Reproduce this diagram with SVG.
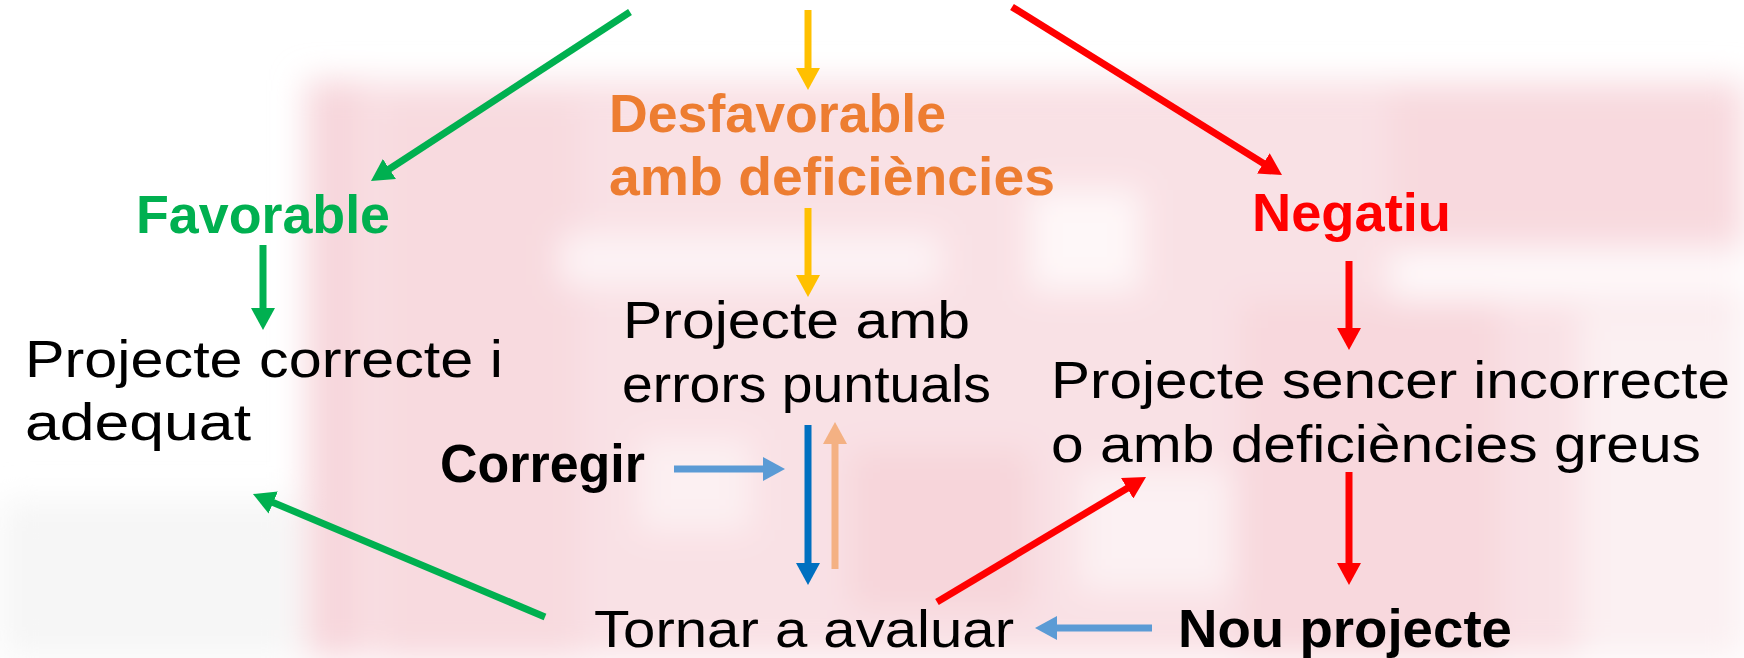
<svg xmlns="http://www.w3.org/2000/svg" width="1744" height="658" viewBox="0 0 1744 658">
<defs>
<style>
.t{font-family:"Liberation Sans",Arial,sans-serif;font-size:52px;fill:#000}
.b{font-family:"Liberation Sans",Arial,sans-serif;font-size:54px;font-weight:bold}
.c{fill:none;stroke-width:7;stroke-linecap:butt}
</style>
<filter id="blur" x="-20%" y="-20%" width="140%" height="140%"><feGaussianBlur stdDeviation="16"/></filter>
<marker id="mG" markerUnits="userSpaceOnUse" markerWidth="22" markerHeight="24" refX="6" refY="12" orient="auto"><path d="M0,0 L22,12 L0,24 z" fill="#00B050"/></marker>
<marker id="mY" markerUnits="userSpaceOnUse" markerWidth="22" markerHeight="24" refX="6" refY="12" orient="auto"><path d="M0,0 L22,12 L0,24 z" fill="#FFC000"/></marker>
<marker id="mR" markerUnits="userSpaceOnUse" markerWidth="22" markerHeight="24" refX="6" refY="12" orient="auto"><path d="M0,0 L22,12 L0,24 z" fill="#FF0000"/></marker>
<marker id="mL" markerUnits="userSpaceOnUse" markerWidth="22" markerHeight="24" refX="6" refY="12" orient="auto"><path d="M0,0 L22,12 L0,24 z" fill="#5B9BD5"/></marker>
<marker id="mD" markerUnits="userSpaceOnUse" markerWidth="22" markerHeight="24" refX="6" refY="12" orient="auto"><path d="M0,0 L22,12 L0,24 z" fill="#0070C0"/></marker>
<marker id="mP" markerUnits="userSpaceOnUse" markerWidth="22" markerHeight="24" refX="6" refY="12" orient="auto"><path d="M0,0 L22,12 L0,24 z" fill="#F4B183"/></marker>
</defs>
<rect width="1744" height="658" fill="#fff"/>
<g id="background" filter="url(#blur)">
<rect x="0" y="500" width="300" height="158" fill="#F6F6F6"/>
<rect x="305" y="80" width="1439" height="578" fill="#F9E1E5"/>
<rect x="310" y="80" width="50" height="578" fill="#F7D6DB"/>
<rect x="380" y="100" width="200" height="560" fill="#F8DADF"/>
<rect x="1390" y="90" width="354" height="150" fill="#F8D9DE"/>
<rect x="560" y="235" width="380" height="50" fill="#FDF3F5"/>
<rect x="1030" y="190" width="110" height="100" fill="#FEF7F8"/>
<rect x="1390" y="250" width="354" height="50" fill="#FEF8F9"/>
<rect x="1580" y="310" width="164" height="348" fill="#FBF0F2"/>
<rect x="640" y="440" width="110" height="90" fill="#FCF0F2"/>
<rect x="1080" y="470" width="150" height="120" fill="#FCF1F3"/>
<rect x="850" y="450" width="180" height="160" fill="#F7D5DA"/>
<rect x="1240" y="300" width="260" height="358" fill="#F8D8DD"/>
</g>
<g id="connectors">
<line class="c" x1="630" y1="12" x2="384.4" y2="172.3" stroke="#00B050" marker-end="url(#mG)"/>
<line class="c" x1="808" y1="10" x2="808" y2="74" stroke="#FFC000" marker-end="url(#mY)"/>
<line class="c" x1="1012" y1="7" x2="1268.4" y2="166.5" stroke="#FF0000" marker-end="url(#mR)"/>
<line class="c" x1="263" y1="245" x2="263" y2="314" stroke="#00B050" marker-end="url(#mG)"/>
<line class="c" x1="808" y1="208" x2="808" y2="281" stroke="#FFC000" marker-end="url(#mY)"/>
<line class="c" x1="1349" y1="261" x2="1349" y2="334" stroke="#FF0000" marker-end="url(#mR)"/>
<line class="c" x1="674" y1="469" x2="769" y2="469" stroke="#5B9BD5" marker-end="url(#mL)"/>
<line class="c" x1="808" y1="425" x2="808" y2="569" stroke="#0070C0" marker-end="url(#mD)"/>
<line class="c" x1="835" y1="569" x2="835" y2="438" stroke="#F4B183" marker-end="url(#mP)"/>
<line class="c" x1="1349" y1="472" x2="1349" y2="569" stroke="#FF0000" marker-end="url(#mR)"/>
<line class="c" x1="1152" y1="628" x2="1051" y2="628" stroke="#5B9BD5" marker-end="url(#mL)"/>
<line class="c" x1="545" y1="617" x2="267.7" y2="500.2" stroke="#00B050" marker-end="url(#mG)"/>
<line class="c" x1="937" y1="602" x2="1132.3" y2="485.2" stroke="#FF0000" marker-end="url(#mR)"/>
</g>
<g id="favorable"><text class="b" x="136" y="233" fill="#00B050" textLength="254" lengthAdjust="spacingAndGlyphs">Favorable</text></g>
<g id="desfavorable"><text class="b" fill="#ED7D31"><tspan x="609" y="132" textLength="337" lengthAdjust="spacingAndGlyphs">Desfavorable</tspan><tspan x="609" y="195" textLength="446" lengthAdjust="spacingAndGlyphs">amb deficiències</tspan></text></g>
<g id="negatiu"><text class="b" x="1252" y="231" fill="#FF0000" textLength="199" lengthAdjust="spacingAndGlyphs">Negatiu</text></g>
<g id="correcte"><text class="t"><tspan x="25" y="377" textLength="478" lengthAdjust="spacingAndGlyphs">Projecte correcte i</tspan><tspan x="25" y="440" textLength="226" lengthAdjust="spacingAndGlyphs">adequat</tspan></text></g>
<g id="errors"><text class="t"><tspan x="623" y="338" textLength="347" lengthAdjust="spacingAndGlyphs">Projecte amb</tspan><tspan x="622" y="402" textLength="369" lengthAdjust="spacingAndGlyphs">errors puntuals</tspan></text></g>
<g id="incorrecte"><text class="t"><tspan x="1051" y="398" textLength="679" lengthAdjust="spacingAndGlyphs">Projecte sencer incorrecte</tspan><tspan x="1051" y="462" textLength="650" lengthAdjust="spacingAndGlyphs">o amb deficiències greus</tspan></text></g>
<g id="corregir"><text class="b" x="440" y="482" fill="#000" textLength="205" lengthAdjust="spacingAndGlyphs">Corregir</text></g>
<g id="tornar"><text class="t" x="594" y="647" textLength="420" lengthAdjust="spacingAndGlyphs">Tornar a avaluar</text></g>
<g id="nou"><text class="b" x="1178" y="647" fill="#000" textLength="334" lengthAdjust="spacingAndGlyphs">Nou projecte</text></g>
</svg>
